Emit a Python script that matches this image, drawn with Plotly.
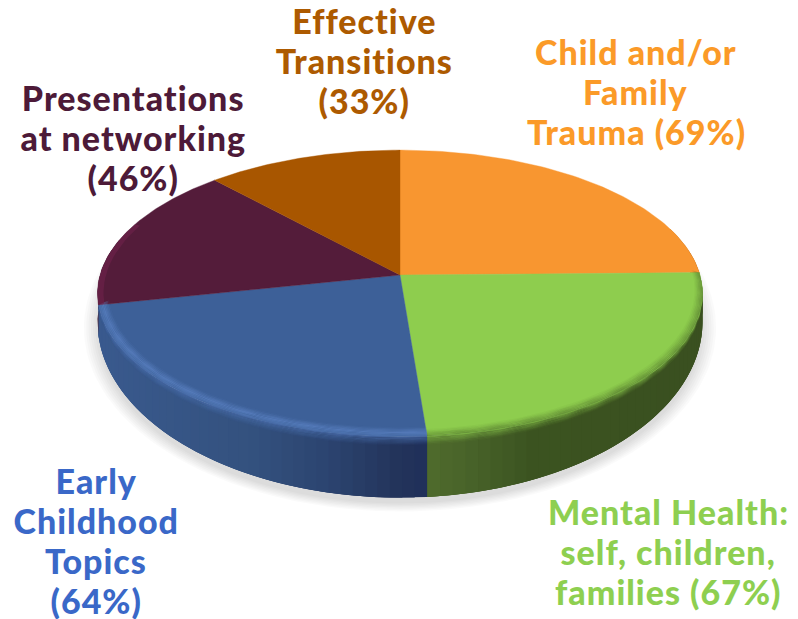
import numpy as np
import plotly.graph_objects as go

categories = ["Child and/or Family Trauma", "Mental Health", "Early Childhood Topics",
              "Presentations at networking", "Effective Transitions"]
values = [69, 67, 64, 46, 33]
top_colors = ["#F89630", "#8ECD4E", "#3D6098", "#541C3A", "#A85600"]
label_lines = [["Child and/or", "Family", "Trauma (69%)"],
               ["Mental Health:", "self, children,", "families (67%)"],
               ["Early", "Childhood", "Topics", "(64%)"],
               ["Presentations", "at networking", "(46%)"],
               ["Effective", "Transitions", "(33%)"]]
label_colors = ["#FB9A28", "#8ECF50", "#3A68C8", "#4D1A38", "#AD5A00"]
label_x = [636, 668, 96, 133, 364]
label_y = [51, 511, 480, 97, 20]
LINE_GAP = 40

CX, RX, CY, RY, K = 400.0, 300.0, 275.0, 141.0, 0.129
CY2, RY2 = 299.0, 173.0


def top(th):
    X, Y = np.sin(th), -np.cos(th)
    d = 1 - K * Y
    return CX + RX * X / d, CY + RY * Y / d


def bottom(th):
    X, Y = np.sin(th), -np.cos(th)
    d = 1 - K * Y
    return CX + RX * X / d, CY2 + RY2 * Y / d


def ring(th, t):
    x0, y0 = top(th)
    x1, y1 = bottom(th)
    x = x0 + t * (x1 - x0)
    if t < 0:  # the bevel also runs inward at the sides
        x = CX + (x - CX) * (1 + 0.22 * t)
    return x, y0 + t * (y1 - y0)


def poly(x, y, color, opacity=1.0, lw=0.0):
    return go.Scatter(x=list(x), y=list(y), mode="lines", fill="toself", fillcolor=color,
                      opacity=opacity, line=dict(color=color, width=lw), hoverinfo="skip",
                      showlegend=False)


def hexmix(stops_x, stops_c, x):
    rgb = [np.interp(x, stops_x, [int(c[i:i + 2], 16) for c in stops_c]) for i in (1, 3, 5)]
    return "rgb(%d,%d,%d)" % tuple(rgb)


shares = np.array(values, dtype=float) / sum(values)
edges = np.concatenate([[0], np.cumsum(shares)]) * 2 * np.pi
fig = go.Figure()

# soft shadow, under the front half only
front = np.linspace(np.radians(65), np.radians(295), 121)
for u in np.linspace(1.045, 1.0, 7):
    x, y = bottom(front)
    fig.add_trace(poly(CX + (x - CX) * u, 322 + 6 + (y - 322) * u, "#000000", 0.018))

# wall
wall_stops = [
    ([640, 703], ["#A8651F", "#A8651F"]),
    ([427, 470, 530, 703], ["#506C2D", "#48632A", "#3C5421", "#3A5020"]),
    ([97, 250, 330, 400, 427], ["#3A5A8E", "#34527F", "#2C4470", "#23345A", "#20305A"]),
    ([90, 130], ["#3A1228", "#3A1228"]),
]
for i, (sx, sc) in enumerate(wall_stops):
    a, b = edges[i], edges[i + 1]
    if i == 0:
        a = np.radians(70)
    if i == 3:
        b = np.radians(285)
    ths = np.linspace(a, b, 41 if i in (1, 2) else 3)
    for j, t0 in enumerate(ths[:-1]):
        # each strip overlaps the next so no seams show
        t_end = ths[min(j + 3, len(ths) - 1)]
        seg = np.linspace(t0, t_end, 6)
        x0, y0 = top(seg)
        x1, y1 = bottom(seg)
        mid = top(0.5 * (t0 + ths[j + 1]))[0]
        fig.add_trace(poly(np.r_[x0, x1[::-1]], np.r_[y0, y1[::-1]], hexmix(sx, sc, mid)))

# top face wedges
for i, c in enumerate(top_colors):
    ths = np.linspace(edges[i], edges[i + 1], 80)
    x, y = top(ths)
    fig.add_trace(poly(np.r_[CX, x, CX], np.r_[CY, y, CY], c, lw=0.4))


def band(th, t0, t1, color, op):
    x0, y0 = ring(th, t0)
    x1, y1 = ring(th, t1)
    fig.add_trace(poly(np.r_[x0, x1[::-1]], np.r_[y0, y1[::-1]], color, op))


# bevel: soft fade from face to wall
STEP = 0.02
th_g = np.linspace(edges[1], edges[2], 70)
for t in np.arange(-0.12, 0.14, STEP):
    f = (t + STEP / 2 + 0.12) / 0.26
    if t < -1e-9:
        band(th_g, t, t + STEP, "#3C5421", f)
    else:
        band(th_g, t, t + STEP, "#8ECD4E", 1 - f)

th_b = np.linspace(edges[2], edges[3], 70)
for t in np.arange(-0.16, 0.14, STEP):
    m = t + STEP / 2
    if m < -0.07:
        band(th_b, t, t + STEP, "#5C83C4", (m + 0.16) / 0.09 * 0.7)
    elif m < 0:
        band(th_b, t, t + STEP, "#5C83C4", 0.7 - (m + 0.07) / 0.07 * 0.35)
    else:
        band(th_b, t, t + STEP, "#476BA8", max(0.0, 0.8 * (1 - m / 0.14)))

# thin lighter rim on the purple wedge
th_p = np.linspace(edges[3], np.radians(292), 20)
xp, yp = top(th_p)
fig.add_trace(poly(np.r_[xp, (CX + (xp - CX) * .98)[::-1]],
                   np.r_[yp, (CY + (yp - CY) * .98)[::-1]], "#6B2148", 0.7))

for lines, col, lx, ly in zip(label_lines, label_colors, label_x, label_y):
    for n, line in enumerate(lines):
        fig.add_annotation(x=lx, y=ly + n * LINE_GAP, text=line, showarrow=False,
                           xanchor="center", yanchor="middle", align="center",
                           font=dict(family="Lato", size=34, weight=900, color=col))

fig.update_layout(width=798, height=619, margin=dict(l=0, r=0, t=0, b=0),
                  paper_bgcolor="white", plot_bgcolor="white", showlegend=False,
                  xaxis=dict(range=[0, 798], visible=False, fixedrange=True),
                  yaxis=dict(range=[619, 0], visible=False, fixedrange=True))
fig.write_html("out.html", config=dict(displayModeBar=False),
               post_script="document.body.style.margin='0';document.body.style.overflow='hidden';"
                           "document.querySelectorAll('.annotation-text').forEach("
                           "function(e){e.style.letterSpacing='1px';});")
